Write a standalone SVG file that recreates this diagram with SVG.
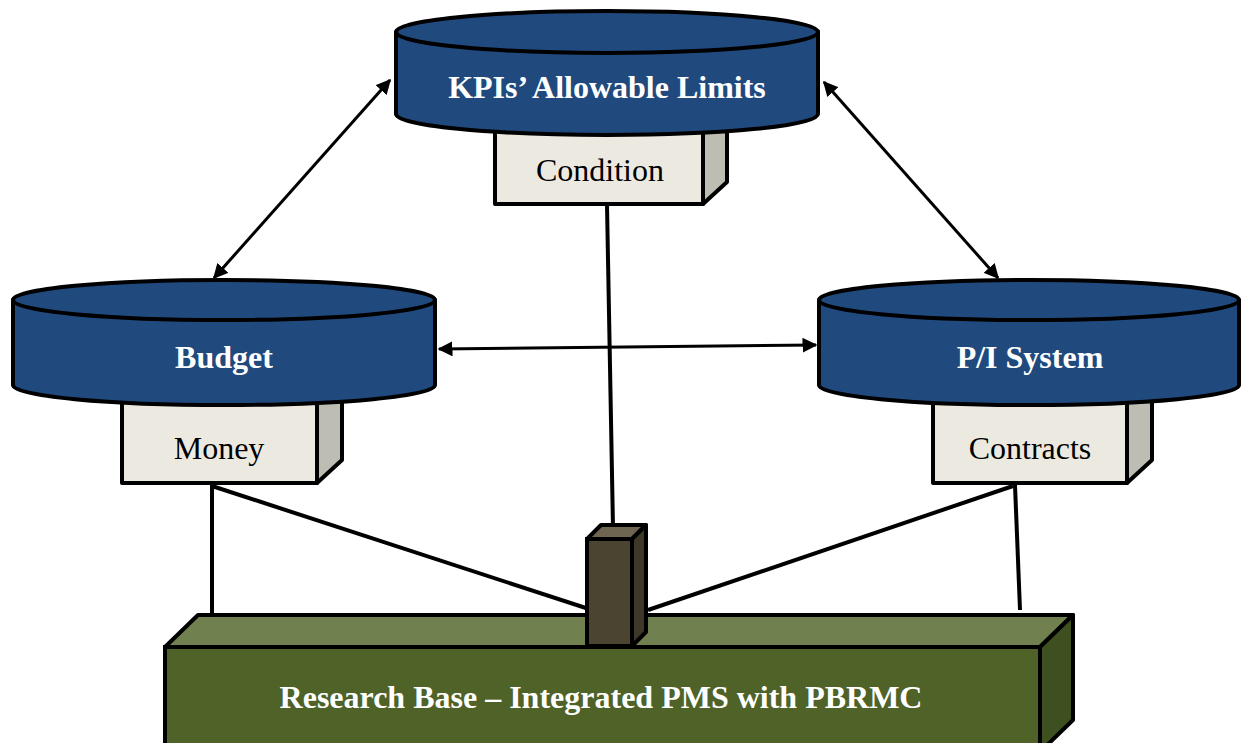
<svg xmlns="http://www.w3.org/2000/svg" width="1244" height="743" viewBox="0 0 1244 743">
<defs>
<style>
.cyl{fill:#204A7E;stroke:#000;stroke-width:4;stroke-linejoin:round}
.front{fill:#ECEAE0;stroke:#000;stroke-width:4;stroke-linejoin:round}
.side{fill:#BEBDB4;stroke:#000;stroke-width:4;stroke-linejoin:round}
.title{font-family:"Liberation Serif","Times New Roman",serif;font-weight:bold;font-size:32px;fill:#fff;text-anchor:middle}
.lbl{font-family:"Liberation Serif","Times New Roman",serif;font-size:32px;fill:#000;text-anchor:middle}
.ln{stroke:#000;stroke-width:4;fill:none}
.arr{stroke:#000;stroke-width:3;fill:none;marker-start:url(#ah);marker-end:url(#ah)}
</style>
<marker id="ah" viewBox="0 0 10 10" refX="9" refY="5" markerWidth="5" markerHeight="5" orient="auto-start-reverse" markerUnits="strokeWidth">
<path d="M0,0 L10,5 L0,10 Z" fill="#000"/>
</marker>
</defs>

<g id="base">
<polygon points="198,615 1073,615 1040,647 165,647" fill="#71804F" stroke="#000" stroke-width="4" stroke-linejoin="round"/>
<polygon points="1040,647 1073,615 1073,720 1040,752" fill="#3E4F20" stroke="#000" stroke-width="4" stroke-linejoin="round"/>
<rect x="165" y="647" width="875" height="110" fill="#4F6228" stroke="#000" stroke-width="4"/>
<text class="title" x="601" y="708">Research Base – Integrated PMS with PBRMC</text>
</g>

<g id="kpis">
<rect class="front" x="495" y="110" width="208" height="94"/>
<polygon class="side" points="703,110 727,88 727,182 703,204"/>
<text class="lbl" x="600" y="181">Condition</text>
<path class="cyl" d="M396,32 L396,114 A211,21 0 0 0 818,114 L818,32 Z"/>
<ellipse class="cyl" cx="607" cy="32" rx="211" ry="21"/>
<text class="title" x="607" y="98">KPIs’ Allowable Limits</text>
</g>

<g id="budget">
<rect class="front" x="122" y="380" width="195" height="103"/>
<polygon class="side" points="317,380 342,358 342,460 317,483"/>
<text class="lbl" x="219" y="459">Money</text>
<path class="cyl" d="M13,300 L13,385 A211,20 0 0 0 435,385 L435,300 Z"/>
<ellipse class="cyl" cx="224" cy="300" rx="211" ry="20"/>
<text class="title" x="224" y="368">Budget</text>
</g>

<g id="pisystem">
<rect class="front" x="933" y="380" width="194" height="103"/>
<polygon class="side" points="1127,380 1152,358 1152,460 1127,483"/>
<text class="lbl" x="1030" y="459">Contracts</text>
<path class="cyl" d="M819,300 L819,385 A210,20 0 0 0 1239,385 L1239,300 Z"/>
<ellipse class="cyl" cx="1029" cy="300" rx="210" ry="20"/>
<text class="title" x="1030" y="368">P/I System</text>
</g>

<g id="connectors">
<line class="arr" x1="390" y1="80" x2="214" y2="278"/>
<line class="arr" x1="824" y1="82" x2="998" y2="278"/>
<line class="arr" x1="439" y1="349" x2="816" y2="345"/>
<line class="ln" x1="607" y1="205" x2="613" y2="528"/>
<line class="ln" x1="212" y1="485" x2="212" y2="613"/>
<line class="ln" x1="212" y1="486" x2="592" y2="610"/>
<line class="ln" x1="1015" y1="485" x2="1020" y2="610"/>
<line class="ln" x1="1013" y1="486" x2="648" y2="610"/>
</g>

<g id="pillar">
<polygon points="587,539 601,525 646,525 632,539" fill="#6E6650" stroke="#000" stroke-width="4" stroke-linejoin="round"/>
<polygon points="632,539 646,525 646,632 632,646" fill="#3D3828" stroke="#000" stroke-width="4" stroke-linejoin="round"/>
<rect x="587" y="539" width="45" height="107" fill="#4A4430" stroke="#000" stroke-width="4"/>
</g>
</svg>
